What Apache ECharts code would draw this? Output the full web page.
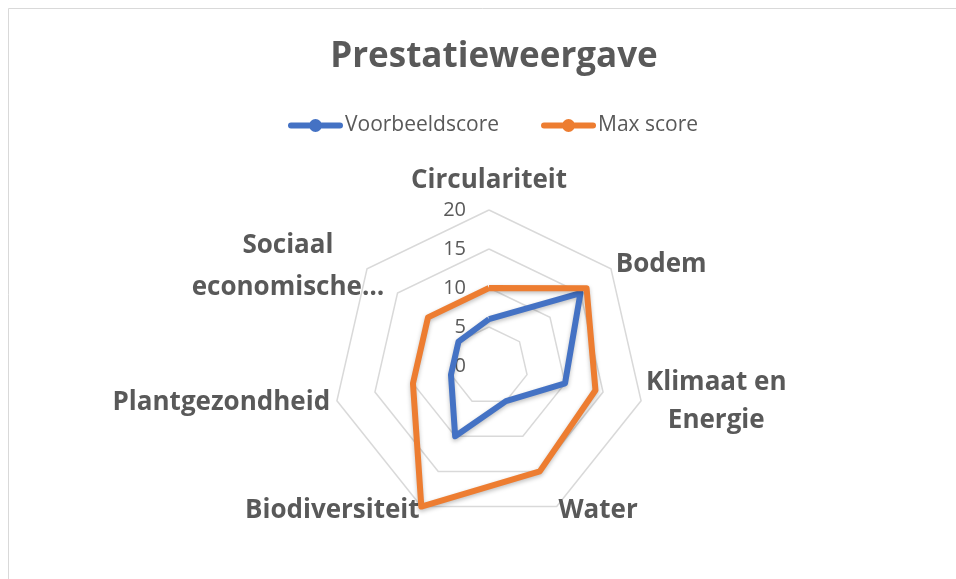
<!DOCTYPE html>
<html>
<head>
<meta charset="utf-8">
<script src="https://cdn.jsdelivr.net/npm/echarts@6/dist/echarts.min.js"></script>
<style>
html, body { margin: 0; padding: 0; background: #fff; }
#main { width: 956px; height: 579px; }
</style>
</head>
<body>
<div id="main"></div>
<script>
// data (Excel order, clockwise from top)
var categories = ['Circulariteit', 'Bodem', 'Klimaat en\nEnergie', 'Water', 'Biodiversiteit', 'Plantgezondheid', 'Sociaal\neconomische…'];
var voorbeeldscore = [6, 15, 10, 5, 10, 5, 5];
var maxScore = [10, 16, 14, 15, 20, 10, 10];
var axisMax = 20;
var seriesNames = ['Voorbeeldscore', 'Max score'];

var textColor = '#595959';
var gridColor = '#d9d9d9';

// label spacing per axis, Excel puts them a bit different than echarts
var nameGaps = [14, 6, 5, 4, 4, 7, 4];
var nameRich = ['t', 'o', 'c', 'o', 'o', 'o', 's'];

// echarts radar runs counter-clockwise, so put the items in reverse after the first one
var order = [0];
for (var i = categories.length - 1; i > 0; i--) order.push(i);
var pick = function(arr) {
    return order.map(function(k) { return arr[k]; });
};

var indicators = order.map(function(k, i) {
    var ind = { name: categories[k], min: 0, max: axisMax, nameGap: nameGaps[k], rich: nameRich[k] };
    if (i == 0) {
        ind.axisLabel = { show: true };
    }
    return ind;
});

var legendIcon = 'path://M3,4 L52,4 A3,3 0 0 1 52,10 L3,10 A3,3 0 0 1 3,4 Z M21,7 A6.5,6.5 0 1 1 34,7 A6.5,6.5 0 1 1 21,7 Z';

var nameFont = { color: textColor, fontSize: 26, fontWeight: 'bold', fontFamily: 'Open Sans' };
var lineShadow = { shadowColor: 'rgba(0,0,0,0.25)', shadowBlur: 4, shadowOffsetY: 2 };

var mychart = echarts.init(document.getElementById('main'));
var option = {
    backgroundColor: '#fff',
    textStyle: { fontFamily: 'Open Sans' },
    title: {
        text: 'Prestatieweergave',
        left: 489,
        textAlign: 'center',
        top: 35,
        textStyle: { color: textColor, fontSize: 35, fontWeight: 'bold', fontFamily: 'Open Sans' }
    },
    legend: {
        data: seriesNames,
        top: 110,
        left: 283,
        itemWidth: 55,
        itemHeight: 14,
        itemGap: 42,
        icon: legendIcon,
        textStyle: { color: textColor, fontSize: 21, padding: [0, 0, 0, -3] }
    },
    graphic: [{
        type: 'rect',
        shape: { x: 8.5, y: 8.5, width: 1200, height: 1200 },
        style: { fill: 'none', stroke: gridColor, lineWidth: 1 },
        silent: true
    }],
    radar: {
        center: [489, 366],
        radius: 156,
        shape: 'polygon',
        splitNumber: 4,
        nameGap: 12,
        axisName: {
            color: textColor,
            fontSize: 26,
            fontWeight: 'bold',
            formatter: function(name, ind) {
                var r = ind.rich || 'o';
                return name.split('\n').map(function(s) { return '{' + r + '|' + s + '}'; }).join('\n');
            },
            rich: {
                t: Object.assign({ lineHeight: 30 }, nameFont),
                o: Object.assign({ lineHeight: 38 }, nameFont),
                c: Object.assign({ align: 'center', lineHeight: 38 }, nameFont),
                s: Object.assign({ align: 'center', width: 152, lineHeight: 42 }, nameFont)
            }
        },
        axisLine: { show: false },
        axisTick: { show: false },
        splitArea: { show: false },
        splitLine: { lineStyle: { color: gridColor, width: 1.5 } },
        axisLabel: { show: false, color: textColor, fontSize: 20, margin: 23 },
        indicator: indicators
    },
    series: [{
        type: 'radar',
        symbol: 'none',
        data: [{
            name: seriesNames[0],
            value: pick(voorbeeldscore),
            lineStyle: Object.assign({ color: '#4472C4', width: 6 }, lineShadow),
            itemStyle: { color: '#4472C4' }
        }, {
            name: seriesNames[1],
            value: pick(maxScore),
            lineStyle: Object.assign({ color: '#ED7D31', width: 6 }, lineShadow),
            itemStyle: { color: '#ED7D31' }
        }]
    }]
};
mychart.setOption(option);
</script>
</body>
</html>
